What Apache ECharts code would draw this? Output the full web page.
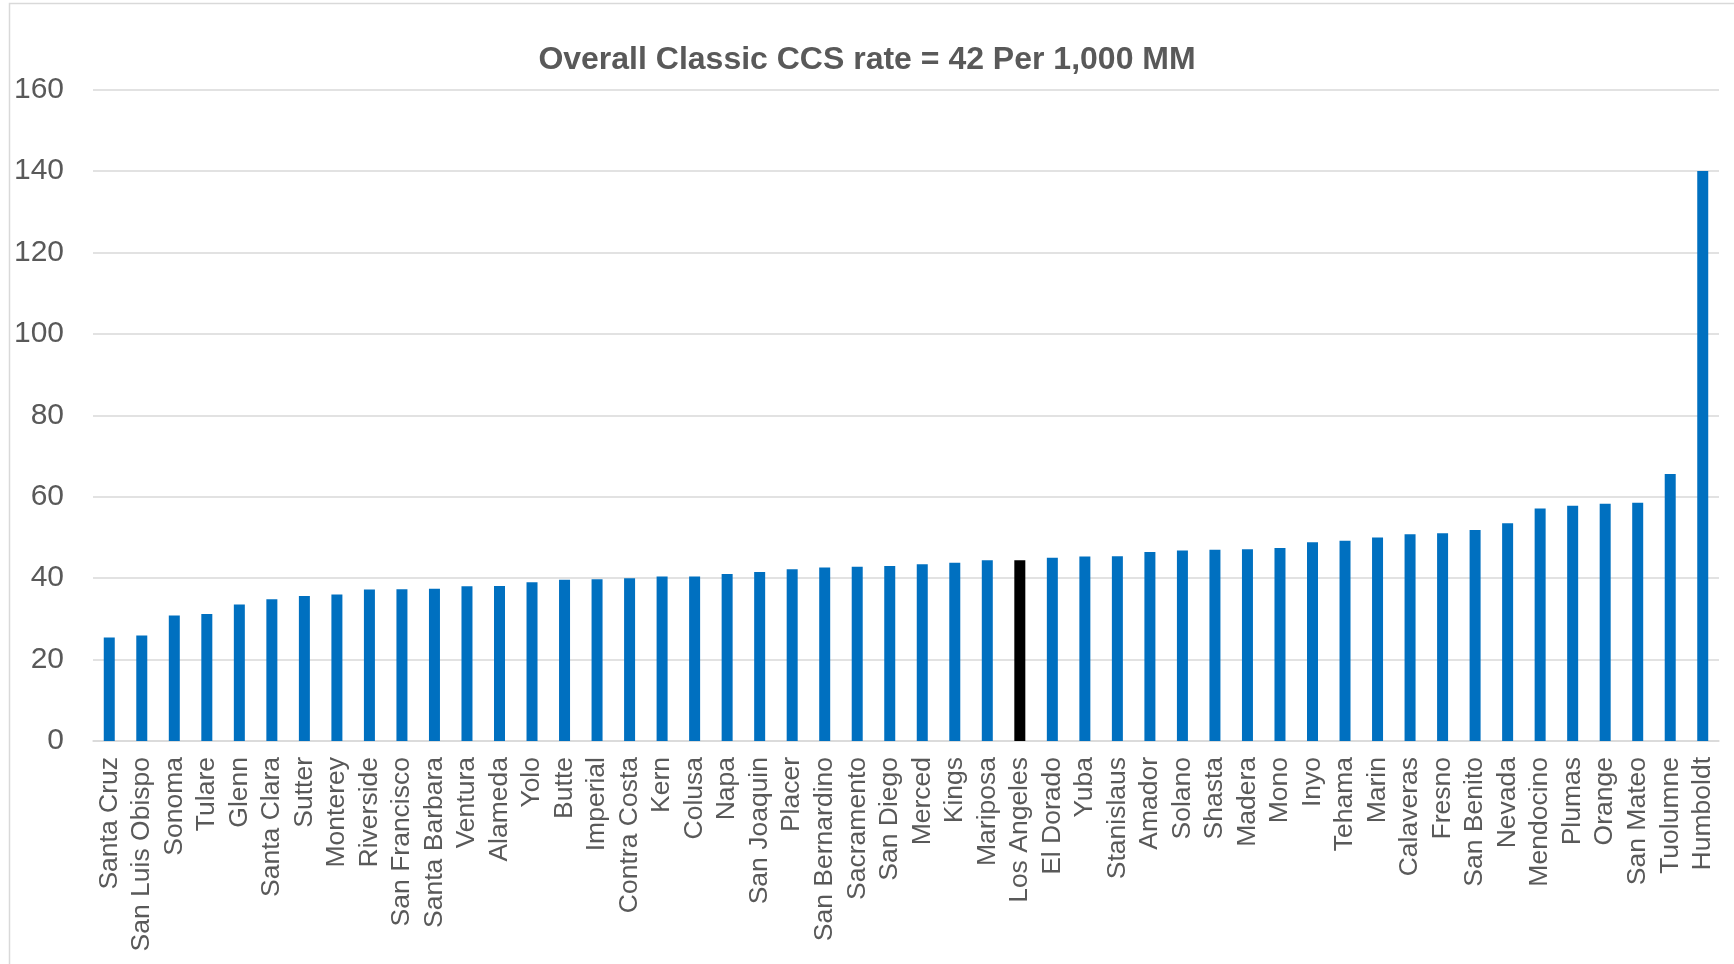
<!DOCTYPE html>
<html>
<head>
<meta charset="utf-8">
<script src="https://cdn.jsdelivr.net/npm/echarts@6/dist/echarts.min.js"></script>
<style>
html,body{margin:0;padding:0;background:#fff;}
#chart{width:1734px;height:964px;}
</style>
</head>
<body>
<div id="chart"></div>
<script>
const categories = ["Santa Cruz","San Luis Obispo","Sonoma","Tulare","Glenn","Santa Clara","Sutter","Monterey","Riverside","San Francisco","Santa Barbara","Ventura","Alameda","Yolo","Butte","Imperial","Contra Costa","Kern","Colusa","Napa","San Joaquin","Placer","San Bernardino","Sacramento","San Diego","Merced","Kings","Mariposa","Los Angeles","El Dorado","Yuba","Stanislaus","Amador","Solano","Shasta","Madera","Mono","Inyo","Tehama","Marin","Calaveras","Fresno","San Benito","Nevada","Mendocino","Plumas","Orange","San Mateo","Tuolumne","Humboldt"];
const rates = [25.4,25.9,30.8,31.2,33.5,34.8,35.6,36.0,37.2,37.3,37.4,38.0,38.1,39.0,39.6,39.7,40.0,40.4,40.4,41.0,41.5,42.2,42.6,42.8,43.0,43.4,43.8,44.4,44.4,45.0,45.3,45.4,46.4,46.8,47.0,47.1,47.4,48.8,49.2,50.0,50.8,51.0,51.8,53.5,57.1,57.8,58.3,58.5,65.6,140.0];
const highlight = "Los Angeles";
const yTicks = [0,20,40,60,80,100,120,140,160];
const titleText = "Overall Classic CCS rate = 42 Per 1,000 MM";

const FONT = "'Liberation Sans', Arial, sans-serif";
const chart = echarts.init(document.getElementById('chart'), null, {renderer:'canvas'});
chart.setOption({
  backgroundColor:'#ffffff',
  animation:false,
  title:{
    text:titleText, left:'center', top:39,
    textStyle:{fontFamily:FONT, fontSize:32, fontWeight:'bold', color:'#595959'}
  },
  graphic:[{
    type:'rect', shape:{x:9.5,y:3.5,width:1740,height:980},
    style:{fill:'none', stroke:'#d9d9d9', lineWidth:1.5}, silent:true, z:-1
  }],
  grid:{left:93, right:15, top:89.6, bottom:223, containLabel:false},
  xAxis:{
    type:'category', data:categories,
    axisLine:{lineStyle:{color:'#d9d9d9', width:1.5}},
    axisTick:{show:false},
    axisLabel:{rotate:90, interval:0, margin:16, fontFamily:FONT, fontSize:26.5, color:'#595959'}
  },
  yAxis:{
    type:'value', min:yTicks[0], max:yTicks[yTicks.length-1], interval:20,
    axisLine:{show:false}, axisTick:{show:false},
    splitLine:{lineStyle:{color:'#d9d9d9', width:1.5}},
    axisLabel:{margin:29, fontFamily:FONT, fontSize:30, color:'#595959'}
  },
  series:[{
    type:'bar', barWidth:11,
    data:rates.map((v,i)=>({value:v, itemStyle:{color: categories[i]===highlight ? '#000000' : '#0070C0'}}))
  }]
});
</script>
</body>
</html>
